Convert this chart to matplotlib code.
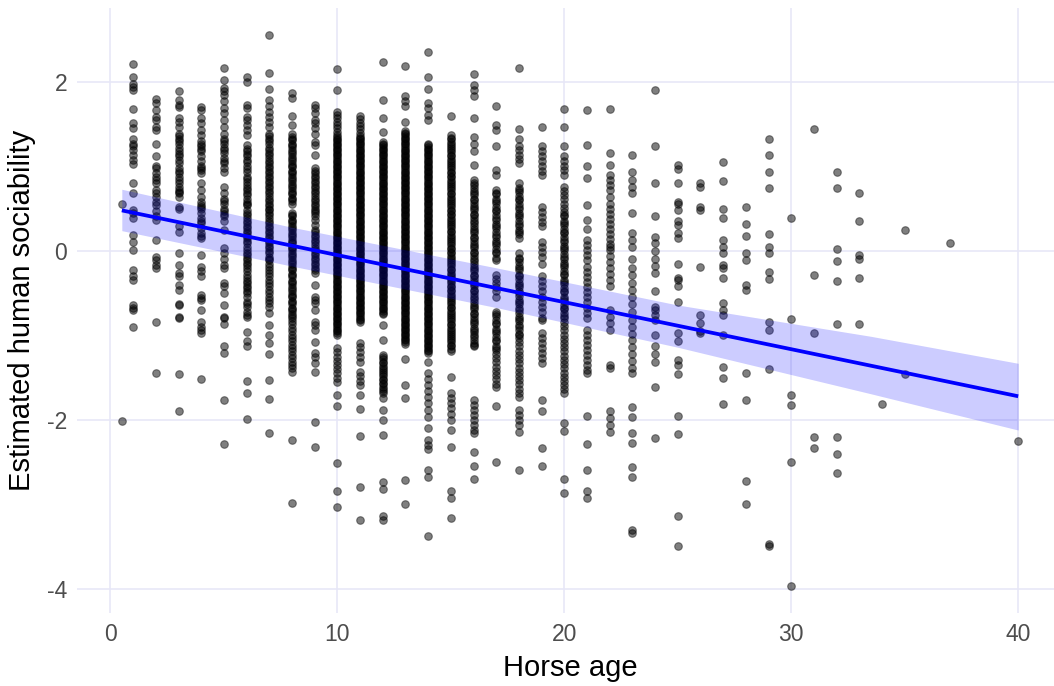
import numpy as np
import matplotlib
matplotlib.use("Agg")
import matplotlib.pyplot as plt

plt.rcParams['font.family'] = ['Liberation Sans', 'DejaVu Sans']

# ---- data (horse age -> estimated human sociability) ----
y_age0_5 = [0.55, -2.01]
y_age1 = [2.21, 2.06, 1.98, 1.94, 1.90, 1.68, 1.51, 1.45, 1.33, 1.27, 1.24, 1.19, 1.14, 1.08, 1.03, 0.81, 0.68,
          0.49, 0.45, 0.39, 0.19, 0.11, 0.01, -0.22, -0.30, -0.34, -0.64, -0.67, -0.70, -0.90]
y_age2 = [1.80, 1.75, 1.67, 1.59, 1.55, 1.47, 1.43, 1.27, 1.12, 1.00, 0.98, 0.92, 0.88, 0.84, 0.80, 0.72, 0.68,
          0.64, 0.58, 0.54, 0.47, 0.41, 0.37, 0.13, -0.07, -0.11, -0.17, -0.20, -0.84, -1.44]
y_age3 = [1.89, 1.79, 1.73, 1.70, 1.57, 1.53, 1.47, 1.39, 1.36, 1.33, 1.30, 1.27, 1.22, 1.18, 1.15, 1.12, 1.08,
          1.04, 0.98, 0.95, 0.92, 0.88, 0.84, 0.80, 0.76, 0.72, 0.70, 0.68, 0.64, 0.52, 0.50, 0.29, 0.23, -0.03,
          -0.17, -0.26, -0.30, -0.40, -0.46, -0.63, -0.64, -0.78, -0.79, -1.46, -1.89]
y_age4 = [1.70, 1.67, 1.57, 1.51, 1.43, 1.37, 1.30, 1.27, 1.24, 1.21, 1.18, 1.12, 1.06, 1.00, 0.98, 0.96, 0.92,
          0.80, 0.72, 0.64, 0.58, 0.54, 0.52, 0.50, 0.45, 0.39, 0.36, 0.33, 0.27, 0.21, 0.18, 0.15, -0.05, -0.19,
          -0.24, -0.30, -0.52, -0.56, -0.58, -0.70, -0.84, -0.90, -0.93, -0.97, -1.51]
y_age5 = [2.17, 2.02, 1.93, 1.89, 1.85, 1.77, 1.69, 1.63, 1.55, 1.47, 1.39, 1.33, 1.30, 1.27, 1.22, 1.19, 1.16,
          1.10, 1.07, 1.04, 0.98, 0.94, 0.76, 0.68, 0.62, 0.59, 0.56, 0.50, 0.47, 0.44, 0.41, 0.35, 0.25, 0.03,
          -0.03, -0.09, -0.17, -0.20, -0.38, -0.42, -0.50, -0.64, -0.78, -0.79, -0.87, -1.13, -1.21, -1.76, -2.29]
y_age6 = [2.06, 2.00, 1.73, 1.69, 1.59, 1.55, 1.49, 1.43, 1.37, 1.25, 1.21, 1.18, 1.15, 1.12, 1.08, 1.05, 1.00,
          0.97, 0.94, 0.88, 0.85, 0.82, 0.78, 0.75, 0.72, 0.69, 0.66, 0.62, 0.58, 0.56, 0.54, 0.49, 0.45, 0.42,
          0.39, 0.36, 0.33, 0.30, 0.27, 0.24, 0.21, 0.18, 0.15, 0.12, 0.09, 0.05, 0.01, -0.02, -0.05, -0.08, -0.11,
          -0.14, -0.17, -0.20, -0.24, -0.28, -0.32, -0.35, -0.38, -0.41, -0.44, -0.47, -0.50, -0.54, -0.60, -0.63,
          -0.66, -0.72, -0.76, -0.78, -0.96, -1.07, -1.13, -1.54, -1.68, -1.99]
y_age7 = [2.55, 2.11, 1.92, 1.79, 1.71, 1.65, 1.59, 1.53, 1.47, 1.39, 1.36, 1.33, 1.30, 1.27, 1.22, 1.19, 1.16,
          1.13, 1.10, 1.07, 1.04, 1.01, 0.98, 0.95, 0.92, 0.89, 0.86, 0.83, 0.80, 0.77, 0.74, 0.71, 0.68, 0.65,
          0.62, 0.59, 0.56, 0.53, 0.50, 0.48, 0.45, 0.42, 0.39, 0.36, 0.33, 0.30, 0.27, 0.24, 0.21, 0.18, 0.15,
          0.12, 0.09, 0.06, 0.03, 0.00, -0.03, -0.07, -0.09, -0.11, -0.15, -0.19, -0.22, -0.26, -0.30, -0.34,
          -0.38, -0.42, -0.46, -0.50, -0.54, -0.58, -0.62, -0.66, -0.74, -0.88, -0.99, -1.09, -1.22, -1.53, -1.75,
          -2.16]
y_age8 = [1.87, 1.81, 1.60, 1.49, 1.39, 1.35, 1.33, 1.31, 1.27, 1.25, 1.23, 1.19, 1.17, 1.15, 1.11, 1.09, 1.07,
          1.03, 1.01, 0.99, 0.95, 0.93, 0.91, 0.87, 0.85, 0.83, 0.79, 0.77, 0.75, 0.71, 0.69, 0.67, 0.63, 0.61,
          0.59, 0.55, 0.45, 0.43, 0.41, 0.37, 0.35, 0.33, 0.29, 0.27, 0.25, 0.21, 0.19, 0.17, 0.13, 0.11, 0.09,
          0.05, 0.03, 0.01, -0.03, -0.05, -0.07, -0.11, -0.13, -0.15, -0.19, -0.21, -0.23, -0.27, -0.29, -0.31,
          -0.35, -0.37, -0.39, -0.43, -0.45, -0.47, -0.51, -0.53, -0.55, -0.59, -0.61, -0.63, -0.67, -0.69, -0.71,
          -0.75, -0.77, -0.79, -0.83, -0.87, -0.91, -0.95, -0.99, -1.03, -1.07, -1.11, -1.15, -1.19, -1.23, -1.27,
          -1.31, -1.35, -1.39, -1.43, -2.24, -2.98]
y_age9 = [1.73, 1.69, 1.63, 1.55, 1.51, 1.45, 1.39, 1.29, 1.25, 1.14, 0.98, 0.95, 0.92, 0.89, 0.86, 0.83, 0.80,
          0.77, 0.74, 0.71, 0.68, 0.65, 0.62, 0.59, 0.56, 0.53, 0.50, 0.47, 0.45, 0.41, 0.37, 0.31, 0.25, 0.22,
          0.19, 0.16, 0.13, 0.10, 0.07, 0.04, 0.01, -0.02, -0.05, -0.08, -0.11, -0.14, -0.17, -0.20, -0.22, -0.26,
          -0.40, -0.54, -0.58, -0.62, -0.70, -0.84, -0.88, -0.93, -1.08, -1.21, -1.25, -1.33, -1.43, -2.03, -2.32]
y_age10 = [2.15, 1.91, 1.65, 1.61, 1.57, 1.53, 1.49, 1.45, 1.41, 1.37, 1.35, 1.33, 1.31, 1.29, 1.27, 1.25, 1.23,
           1.21, 1.19, 1.17, 1.15, 1.13, 1.11, 1.09, 1.07, 1.05, 1.03, 1.01, 0.99, 0.97, 0.95, 0.93, 0.91, 0.89,
           0.87, 0.85, 0.83, 0.81, 0.79, 0.77, 0.75, 0.73, 0.71, 0.69, 0.67, 0.65, 0.63, 0.61, 0.59, 0.57, 0.55,
           0.53, 0.51, 0.49, 0.47, 0.45, 0.43, 0.41, 0.39, 0.37, 0.35, 0.33, 0.31, 0.29, 0.27, 0.25, 0.23, 0.21,
           0.19, 0.17, 0.15, 0.13, 0.11, 0.09, 0.07, 0.05, 0.03, 0.01, -0.01, -0.03, -0.05, -0.07, -0.09, -0.11,
           -0.13, -0.15, -0.17, -0.19, -0.21, -0.23, -0.25, -0.27, -0.29, -0.31, -0.33, -0.35, -0.37, -0.39, -0.41,
           -0.43, -0.45, -0.47, -0.49, -0.51, -0.53, -0.55, -0.57, -0.59, -0.61, -0.63, -0.65, -0.67, -0.69, -0.71,
           -0.73, -0.75, -0.77, -0.79, -0.81, -0.83, -0.85, -0.87, -0.89, -0.91, -0.93, -0.95, -0.97, -0.99, -1.15,
           -1.20, -1.25, -1.30, -1.35, -1.40, -1.45, -1.50, -1.55, -1.70, -1.84, -2.51, -2.84, -3.03]
y_age11 = [1.60, 1.56, 1.52, 1.48, 1.44, 1.40, 1.36, 1.34, 1.32, 1.30, 1.28, 1.26, 1.24, 1.22, 1.20, 1.18, 1.16,
           1.14, 1.12, 1.10, 1.08, 1.06, 1.04, 1.02, 1.00, 0.98, 0.96, 0.94, 0.92, 0.90, 0.88, 0.86, 0.84, 0.82,
           0.80, 0.78, 0.76, 0.74, 0.72, 0.70, 0.68, 0.66, 0.64, 0.62, 0.60, 0.58, 0.56, 0.54, 0.52, 0.50, 0.48,
           0.46, 0.44, 0.42, 0.40, 0.38, 0.36, 0.34, 0.32, 0.30, 0.28, 0.26, 0.24, 0.22, 0.20, 0.18, 0.16, 0.14,
           0.12, 0.10, 0.08, 0.06, 0.04, 0.02, 0.00, -0.02, -0.04, -0.06, -0.08, -0.10, -0.12, -0.14, -0.16, -0.18,
           -0.20, -0.22, -0.24, -0.26, -0.28, -0.30, -0.32, -0.34, -0.36, -0.38, -0.40, -0.42, -0.44, -0.46, -0.48,
           -0.50, -0.52, -0.54, -0.56, -0.58, -0.60, -0.62, -0.64, -0.66, -0.68, -0.70, -0.72, -0.74, -0.76, -0.78,
           -0.80, -0.82, -0.84, -1.09, -1.14, -1.20, -1.26, -1.31, -1.43, -1.48, -1.54, -1.59, -1.70, -1.87, -2.19,
           -2.79, -3.18]
y_age12 = [2.24, 1.79, 1.57, 1.41, 1.29, 1.27, 1.25, 1.23, 1.21, 1.19, 1.17, 1.15, 1.13, 1.11, 1.09, 1.07, 1.05,
           1.03, 1.01, 0.99, 0.97, 0.95, 0.93, 0.91, 0.89, 0.87, 0.85, 0.83, 0.81, 0.79, 0.77, 0.75, 0.73, 0.71,
           0.69, 0.67, 0.65, 0.63, 0.61, 0.59, 0.57, 0.55, 0.53, 0.51, 0.49, 0.47, 0.45, 0.43, 0.41, 0.39, 0.37,
           0.35, 0.33, 0.31, 0.29, 0.27, 0.25, 0.23, 0.21, 0.19, 0.17, 0.15, 0.13, 0.11, 0.09, 0.07, 0.05, 0.03,
           0.01, -0.01, -0.03, -0.05, -0.07, -0.09, -0.11, -0.13, -0.15, -0.17, -0.19, -0.21, -0.23, -0.25, -0.27,
           -0.29, -0.31, -0.33, -0.35, -0.37, -0.39, -0.41, -0.43, -0.45, -0.47, -0.49, -0.51, -0.53, -0.55, -0.57,
           -0.59, -0.61, -0.63, -0.65, -0.67, -0.69, -0.71, -0.73, -0.75, -0.88, -1.05, -1.23, -1.26, -1.28, -1.31,
           -1.33, -1.36, -1.38, -1.41, -1.43, -1.46, -1.48, -1.51, -1.53, -1.56, -1.58, -1.61, -1.63, -1.66, -1.68,
           -1.74, -1.88, -2.00, -2.18, -2.74, -2.82, -3.14, -3.18]
y_age13 = [2.19, 1.83, 1.77, 1.71, 1.53, 1.42, 1.40, 1.38, 1.36, 1.34, 1.32, 1.30, 1.28, 1.26, 1.24, 1.22, 1.20,
           1.18, 1.16, 1.14, 1.12, 1.10, 1.08, 1.06, 1.04, 1.02, 1.00, 0.98, 0.96, 0.94, 0.92, 0.90, 0.88, 0.86,
           0.84, 0.82, 0.80, 0.78, 0.76, 0.74, 0.72, 0.70, 0.68, 0.66, 0.64, 0.62, 0.60, 0.58, 0.56, 0.54, 0.52,
           0.50, 0.48, 0.46, 0.44, 0.42, 0.40, 0.38, 0.36, 0.34, 0.32, 0.30, 0.28, 0.26, 0.24, 0.22, 0.20, 0.18,
           0.16, 0.14, 0.12, 0.10, 0.08, 0.06, 0.04, 0.02, 0.00, -0.02, -0.04, -0.06, -0.08, -0.10, -0.12, -0.14,
           -0.16, -0.18, -0.20, -0.22, -0.24, -0.26, -0.28, -0.30, -0.32, -0.34, -0.36, -0.38, -0.40, -0.42, -0.44,
           -0.46, -0.48, -0.50, -0.52, -0.54, -0.56, -0.58, -0.60, -0.62, -0.64, -0.66, -0.68, -0.70, -0.72, -0.74,
           -0.76, -0.78, -0.80, -0.82, -0.84, -0.86, -0.88, -0.90, -0.92, -0.94, -0.96, -0.98, -1.00, -1.02, -1.04,
           -1.06, -1.08, -1.10, -1.28, -1.59, -1.74, -2.71, -3.00]
y_age14 = [2.36, 2.06, 1.92, 1.75, 1.69, 1.61, 1.55, 1.27, 1.25, 1.23, 1.21, 1.19, 1.17, 1.15, 1.13, 1.11, 1.09,
           1.07, 1.05, 1.03, 1.01, 0.99, 0.97, 0.95, 0.93, 0.91, 0.89, 0.87, 0.85, 0.83, 0.81, 0.79, 0.77, 0.75,
           0.73, 0.71, 0.69, 0.67, 0.65, 0.63, 0.61, 0.59, 0.57, 0.55, 0.53, 0.51, 0.49, 0.47, 0.45, 0.43, 0.41,
           0.39, 0.37, 0.35, 0.33, 0.31, 0.29, 0.27, 0.25, 0.23, 0.21, 0.19, 0.17, 0.15, 0.13, 0.11, 0.09, 0.07,
           0.05, 0.03, 0.01, -0.01, -0.03, -0.05, -0.07, -0.09, -0.11, -0.13, -0.15, -0.17, -0.19, -0.21, -0.23,
           -0.25, -0.27, -0.29, -0.31, -0.33, -0.35, -0.37, -0.39, -0.41, -0.43, -0.45, -0.47, -0.49, -0.51, -0.53,
           -0.55, -0.57, -0.59, -0.61, -0.63, -0.65, -0.67, -0.69, -0.71, -0.73, -0.75, -0.77, -0.79, -0.81, -0.83,
           -0.85, -0.87, -0.89, -0.91, -0.93, -0.95, -0.97, -0.99, -1.01, -1.03, -1.05, -1.07, -1.09, -1.11, -1.13,
           -1.15, -1.17, -1.19, -1.21, -1.32, -1.45, -1.52, -1.59, -1.66, -1.73, -1.80, -1.88, -1.96, -2.10, -2.24,
           -2.30, -2.35, -2.59, -2.68, -3.37]
y_age15 = [1.60, 1.37, 1.34, 1.32, 1.29, 1.27, 1.24, 1.22, 1.19, 1.17, 1.14, 1.12, 1.09, 1.07, 1.04, 1.02, 0.99,
           0.97, 0.94, 0.92, 0.89, 0.87, 0.84, 0.82, 0.79, 0.77, 0.74, 0.72, 0.69, 0.67, 0.64, 0.62, 0.59, 0.57,
           0.54, 0.52, 0.49, 0.47, 0.44, 0.42, 0.39, 0.37, 0.34, 0.32, 0.29, 0.27, 0.24, 0.22, 0.19, 0.17, 0.14,
           0.12, 0.09, 0.07, 0.04, 0.02, -0.01, -0.03, -0.06, -0.08, -0.11, -0.13, -0.16, -0.18, -0.21, -0.23,
           -0.26, -0.28, -0.31, -0.33, -0.36, -0.38, -0.41, -0.43, -0.46, -0.48, -0.51, -0.53, -0.56, -0.58, -0.61,
           -0.63, -0.66, -0.68, -0.71, -0.73, -0.76, -0.78, -0.81, -0.83, -0.86, -0.88, -0.91, -0.93, -0.96, -0.98,
           -1.01, -1.03, -1.06, -1.08, -1.11, -1.13, -1.16, -1.19, -1.49, -1.68, -1.74, -1.80, -1.86, -1.93, -2.00,
           -2.12, -2.32, -2.84, -2.93, -3.16]
y_age16 = [2.10, 1.96, 1.91, 1.83, 1.57, 1.35, 1.27, 1.18, 1.02, 0.84, 0.80, 0.78, 0.75, 0.71, 0.69, 0.66, 0.62,
           0.60, 0.57, 0.53, 0.51, 0.48, 0.44, 0.42, 0.39, 0.35, 0.33, 0.30, 0.26, 0.24, 0.21, 0.17, 0.15, 0.12,
           0.08, 0.06, 0.03, -0.01, -0.03, -0.06, -0.10, -0.12, -0.15, -0.19, -0.21, -0.24, -0.28, -0.30, -0.33,
           -0.37, -0.39, -0.42, -0.46, -0.48, -0.51, -0.55, -0.57, -0.60, -0.64, -0.66, -0.69, -0.73, -0.75, -0.78,
           -0.82, -0.84, -0.87, -0.91, -0.93, -0.96, -1.00, -1.02, -1.05, -1.09, -1.11, -1.13, -1.76, -1.82, -1.88,
           -1.94, -2.00, -2.06, -2.12, -2.16, -2.38, -2.55, -2.70]
y_age17 = [1.72, 1.49, 1.43, 1.24, 0.96, 0.90, 0.72, 0.69, 0.67, 0.62, 0.59, 0.57, 0.52, 0.49, 0.47, 0.42, 0.39,
           0.37, 0.32, 0.29, 0.27, 0.22, 0.19, 0.17, 0.12, 0.09, 0.07, 0.02, -0.01, -0.03, -0.08, -0.11, -0.28,
           -0.33, -0.38, -0.43, -0.48, -0.54, -0.72, -0.75, -0.77, -0.82, -0.85, -0.87, -0.92, -0.95, -0.97, -1.02,
           -1.05, -1.07, -1.12, -1.15, -1.17, -1.22, -1.27, -1.32, -1.37, -1.42, -1.47, -1.52, -1.57, -1.61, -1.83,
           -2.50]
y_age18 = [2.16, 1.44, 1.33, 1.24, 1.19, 1.14, 1.09, 1.04, 0.80, 0.75, 0.72, 0.70, 0.65, 0.62, 0.60, 0.55, 0.52,
           0.50, 0.45, 0.42, 0.40, 0.35, 0.32, 0.30, 0.25, 0.22, 0.20, 0.15, -0.03, -0.08, -0.10, -0.13, -0.18,
           -0.20, -0.23, -0.28, -0.30, -0.33, -0.38, -0.40, -0.43, -0.48, -0.50, -0.53, -0.58, -0.60, -0.63, -0.68,
           -0.70, -0.73, -0.78, -0.80, -0.83, -0.88, -0.90, -0.93, -0.98, -1.00, -1.03, -1.08, -1.13, -1.18, -1.23,
           -1.28, -1.33, -1.38, -1.43, -1.48, -1.53, -1.58, -1.63, -1.68, -1.73, -1.88, -1.94, -2.00, -2.06, -2.14,
           -2.59]
y_age19 = [1.47, 1.24, 1.18, 1.12, 1.06, 1.00, 0.95, 0.90, 0.52, 0.46, 0.40, 0.34, 0.29, 0.11, 0.05, -0.01,
           -0.07, -0.15, -0.30, -0.36, -0.42, -0.48, -0.54, -0.60, -0.66, -0.72, -0.79, -0.82, -0.97, -1.03, -1.09,
           -1.15, -1.21, -1.27, -1.33, -1.76, -1.89, -2.33, -2.55]
y_age20 = [1.68, 1.47, 1.24, 1.12, 1.07, 1.01, 0.96, 0.90, 0.76, 0.71, 0.66, 0.61, 0.56, 0.51, 0.46, 0.43, 0.41,
           0.36, 0.33, 0.31, 0.26, 0.23, 0.21, 0.16, 0.13, 0.11, 0.06, 0.03, 0.01, -0.04, -0.07, -0.09, -0.14,
           -0.17, -0.19, -0.24, -0.27, -0.29, -0.34, -0.37, -0.39, -0.44, -0.47, -0.49, -0.54, -0.57, -0.59, -0.64,
           -0.67, -0.69, -0.74, -0.77, -0.79, -0.84, -0.89, -0.94, -0.99, -1.04, -1.09, -1.14, -1.19, -1.24, -1.29,
           -1.34, -1.39, -1.44, -1.49, -1.54, -1.59, -1.64, -1.68, -2.04, -2.13, -2.70, -2.87]
y_age21 = [1.67, 1.25, 1.00, 0.86, 0.54, 0.37, 0.26, 0.13, 0.07, 0.01, -0.05, -0.11, -0.19, -0.25, -0.31, -0.37,
           -0.43, -0.49, -0.55, -0.61, -0.67, -0.73, -0.79, -0.93, -0.99, -1.05, -1.11, -1.17, -1.23, -1.29, -1.35,
           -1.41, -1.45, -1.95, -2.29, -2.59, -2.84, -2.92]
y_age22 = [1.68, 1.16, 1.02, 0.90, 0.84, 0.78, 0.72, 0.64, 0.56, 0.50, 0.44, 0.38, 0.32, 0.26, 0.20, 0.14, 0.08,
           0.05, 0.01, -0.06, -0.13, -0.20, -0.27, -0.34, -0.42, -0.70, -0.78, -0.85, -0.93, -1.35, -1.39, -1.90,
           -1.98, -2.06, -2.14]
y_age23 = [1.14, 0.94, 0.84, 0.76, 0.68, 0.45, 0.21, 0.13, 0.05, -0.10, -0.20, -0.29, -0.38, -0.46, -0.54, -0.63,
           -0.72, -0.82, -0.90, -0.98, -1.06, -1.14, -1.22, -1.30, -1.38, -1.45, -1.85, -1.96, -2.16, -2.27, -2.56,
           -2.67, -3.30, -3.34]
y_age24 = [1.91, 1.24, 0.80, 0.41, 0.17, 0.09, 0.00, -0.09, -0.18, -0.26, -0.48, -0.66, -0.70, -0.76, -0.82, -1.00,
           -1.13, -1.22, -1.31, -1.61, -2.21]
y_age25 = [1.02, 0.97, 0.81, 0.58, 0.56, 0.49, 0.35, 0.31, 0.21, 0.15, -0.15, -0.32, -0.34, -0.42, -0.60, -0.97,
           -1.07, -1.29, -1.35, -1.46, -1.95, -2.17, -3.14, -3.49]
y_age26 = [0.81, 0.76, 0.52, 0.49, -0.19, -0.76, -0.85, -0.95, -0.97]
y_age27 = [1.05, 0.83, 0.50, 0.39, 0.13, 0.05, -0.02, -0.17, -0.20, -0.32, -0.62, -0.70, -0.76, -1.00, -1.37,
           -1.50, -1.81]
y_age28 = [0.52, 0.32, 0.18, -0.02, -0.11, -0.40, -0.46, -1.44, -1.77, -2.72, -2.99]
y_age29 = [1.33, 1.13, 0.94, 0.74, 0.20, 0.05, -0.02, -0.25, -0.33, -0.84, -0.93, -1.40, -3.49, -3.47]
y_age30 = [0.39, -0.80, -1.70, -1.82, -2.50, -3.96]
y_age31 = [1.44, -0.28, -0.97, -2.20, -2.33]
y_age32 = [0.94, 0.74, 0.02, -0.12, -0.36, -0.87, -2.20, -2.40, -2.63]
y_age33 = [0.68, 0.36, -0.05, -0.09, -0.32, -0.87]
y_age34 = [-1.81]
y_age35 = [0.25, -1.46]
y_age37 = [0.09]
y_age40 = [-2.25]

ages = [0.5, 1, 2, 3, 4, 5, 6, 7, 8, 9, 10, 11, 12, 13, 14, 15, 16, 17, 18, 19, 20,
        21, 22, 23, 24, 25, 26, 27, 28, 29, 30, 31, 32, 33, 34, 35, 37, 40]
sociability = [y_age0_5, y_age1, y_age2, y_age3, y_age4, y_age5, y_age6, y_age7, y_age8, y_age9, y_age10,
               y_age11, y_age12, y_age13, y_age14, y_age15, y_age16, y_age17, y_age18, y_age19, y_age20,
               y_age21, y_age22, y_age23, y_age24, y_age25, y_age26, y_age27, y_age28, y_age29, y_age30,
               y_age31, y_age32, y_age33, y_age34, y_age35, y_age37, y_age40]

# linear fit and its confidence band
fit_x = [0.5, 8, 17, 25, 33.5, 40]
fit_y = [0.48, 0.062, -0.439, -0.885, -1.358, -1.72]
band_hi = [0.73, 0.28, -0.20, -0.64, -1.01, -1.33]
band_lo = [0.24, -0.18, -0.67, -1.14, -1.69, -2.12]

x_ticks = [0, 10, 20, 30, 40]
y_ticks = [-4, -2, 0, 2]
x_label = "Horse age"
y_label = "Estimated human sociability"

# ---- plotting ----
xs = np.concatenate([np.full(len(v), a, dtype=float) for a, v in zip(ages, sociability)])
ys = np.concatenate([np.asarray(v, dtype=float) for v in sociability])

fig = plt.figure(figsize=(10.54, 6.86), dpi=100)
ax = fig.add_axes([77 / 1054, 1 - 613 / 686, 986 / 1054, 605 / 686])

ax.scatter(xs, ys, s=30, facecolor=(0, 0, 0, 0.5), edgecolor=(0, 0, 0, 0.45), linewidths=0.8, zorder=3)
ax.fill_between(fit_x, band_lo, band_hi, color=(0.0, 0.0, 1.0), alpha=0.2, linewidth=0, zorder=4)
ax.plot(fit_x, fit_y, color='#0000FF', linewidth=2.7, solid_capstyle='butt', zorder=5)

ax.set_xlim(-1.475, 41.975)
ax.set_ylim(-4.2855, 2.8755)
ax.set_xticks(x_ticks)
ax.set_yticks(y_ticks)
ax.set_yticklabels([str(t) for t in y_ticks])
ax.grid(True, color='#E6E6F7', linewidth=1.1, zorder=0)
ax.set_axisbelow(True)
for sp in ax.spines.values():
    sp.set_visible(False)
ax.tick_params(axis='both', length=0, labelsize=16.5, labelcolor='#4D4D4D', pad=7)
ax.set_xlabel(x_label, fontsize=21, color='black', labelpad=6)
ax.set_ylabel(y_label, fontsize=21, color='black', labelpad=8)

fig.savefig("out.png", dpi=100, facecolor='white')
